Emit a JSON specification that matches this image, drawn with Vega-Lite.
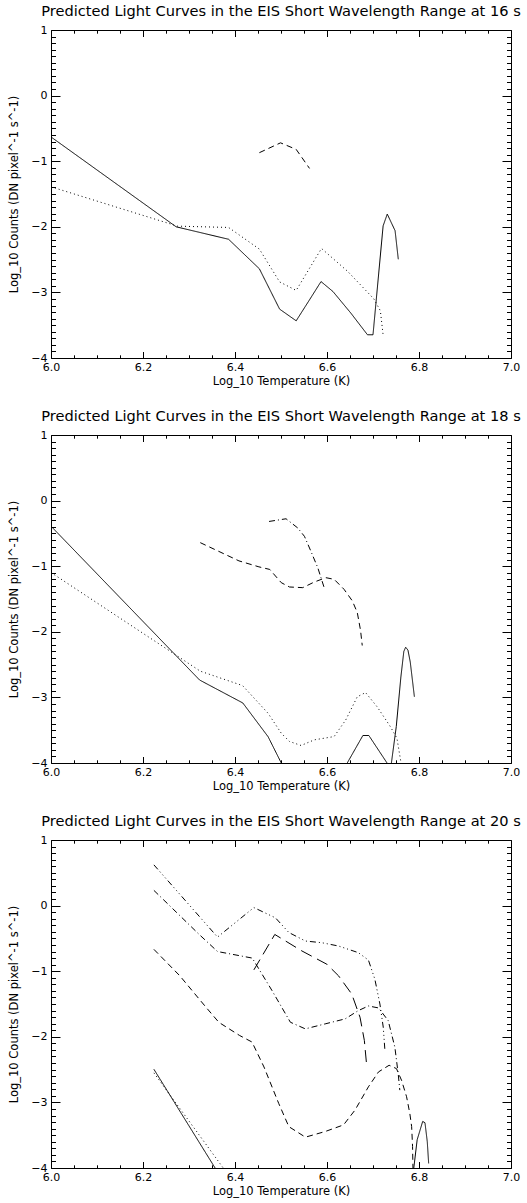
{
  "$schema": "https://vega.github.io/schema/vega-lite/v6.json",
  "padding": {"left": 8, "top": 4, "right": 5, "bottom": 2},
  "spacing": 21,
  "datasets": {
    "pts": [
      {"p":1,"c":"A","i":1,"T":6.0,"v":-0.63},{"p":1,"c":"A","i":2,"T":6.272,"v":-2.0},{"p":1,"c":"A","i":3,"T":6.386,"v":-2.19},{"p":1,"c":"A","i":4,"T":6.453,"v":-2.64},{"p":1,"c":"A","i":5,"T":6.497,"v":-3.255},{"p":1,"c":"A","i":6,"T":6.533,"v":-3.433},{"p":1,"c":"A","i":7,"T":6.562,"v":-3.113},{"p":1,"c":"A","i":8,"T":6.587,"v":-2.835},{"p":1,"c":"A","i":9,"T":6.613,"v":-2.987},{"p":1,"c":"A","i":10,"T":6.652,"v":-3.317},{"p":1,"c":"A","i":11,"T":6.688,"v":-3.646},{"p":1,"c":"A","i":12,"T":6.7,"v":-3.646},{"p":1,"c":"A","i":13,"T":6.722,"v":-1.986},{"p":1,"c":"A","i":14,"T":6.731,"v":-1.806},{"p":1,"c":"A","i":15,"T":6.748,"v":-2.059},{"p":1,"c":"A","i":16,"T":6.755,"v":-2.495},
      {"p":1,"c":"B","i":1,"T":6.0,"v":-1.39},{"p":1,"c":"B","i":2,"T":6.275,"v":-1.99},{"p":1,"c":"B","i":3,"T":6.386,"v":-2.01},{"p":1,"c":"B","i":4,"T":6.453,"v":-2.34},{"p":1,"c":"B","i":5,"T":6.497,"v":-2.84},{"p":1,"c":"B","i":6,"T":6.533,"v":-2.97},{"p":1,"c":"B","i":7,"T":6.588,"v":-2.33},{"p":1,"c":"B","i":8,"T":6.645,"v":-2.68},{"p":1,"c":"B","i":9,"T":6.702,"v":-3.1},{"p":1,"c":"B","i":10,"T":6.716,"v":-3.28},{"p":1,"c":"B","i":11,"T":6.722,"v":-3.65},
      {"p":1,"c":"C","i":1,"T":6.453,"v":-0.87},{"p":1,"c":"C","i":2,"T":6.499,"v":-0.72},{"p":1,"c":"C","i":3,"T":6.533,"v":-0.82},{"p":1,"c":"C","i":4,"T":6.562,"v":-1.11},

      {"p":2,"c":"A","i":1,"T":6.0,"v":-0.39},{"p":2,"c":"A","i":2,"T":6.323,"v":-2.735},{"p":2,"c":"A","i":3,"T":6.417,"v":-3.085},{"p":2,"c":"A","i":4,"T":6.472,"v":-3.6},{"p":2,"c":"A","i":5,"T":6.5006,"v":-4.0},{"p":2,"c":"A","i":6,"T":6.53,"v":-4.5},{"p":2,"c":"A","i":7,"T":6.59,"v":-4.9},{"p":2,"c":"A","i":8,"T":6.62,"v":-4.5},{"p":2,"c":"A","i":9,"T":6.644,"v":-4.0},{"p":2,"c":"A","i":10,"T":6.678,"v":-3.581},{"p":2,"c":"A","i":11,"T":6.691,"v":-3.581},{"p":2,"c":"A","i":12,"T":6.7305,"v":-4.0},{"p":2,"c":"A","i":13,"T":6.735,"v":-4.05},{"p":2,"c":"A","i":14,"T":6.74,"v":-4.0},{"p":2,"c":"A","i":15,"T":6.7506,"v":-3.445},{"p":2,"c":"A","i":16,"T":6.7606,"v":-2.689},{"p":2,"c":"A","i":17,"T":6.767,"v":-2.3},{"p":2,"c":"A","i":18,"T":6.771,"v":-2.235},{"p":2,"c":"A","i":19,"T":6.776,"v":-2.28},{"p":2,"c":"A","i":20,"T":6.781,"v":-2.461},{"p":2,"c":"A","i":21,"T":6.79,"v":-2.991},
      {"p":2,"c":"B","i":1,"T":6.0,"v":-1.096},{"p":2,"c":"B","i":2,"T":6.3245,"v":-2.6},{"p":2,"c":"B","i":3,"T":6.4165,"v":-2.82},{"p":2,"c":"B","i":4,"T":6.472,"v":-3.243},{"p":2,"c":"B","i":5,"T":6.5006,"v":-3.546},{"p":2,"c":"B","i":6,"T":6.5185,"v":-3.672},{"p":2,"c":"B","i":7,"T":6.5437,"v":-3.733},{"p":2,"c":"B","i":8,"T":6.5724,"v":-3.647},{"p":2,"c":"B","i":9,"T":6.6155,"v":-3.597},{"p":2,"c":"B","i":10,"T":6.6407,"v":-3.344},{"p":2,"c":"B","i":11,"T":6.6658,"v":-2.991},{"p":2,"c":"B","i":12,"T":6.6838,"v":-2.926},{"p":2,"c":"B","i":13,"T":6.709,"v":-3.143},{"p":2,"c":"B","i":14,"T":6.7377,"v":-3.445},{"p":2,"c":"B","i":15,"T":6.752,"v":-3.622},{"p":2,"c":"B","i":16,"T":6.761,"v":-4.0},
      {"p":2,"c":"C","i":1,"T":6.3245,"v":-0.641},{"p":2,"c":"C","i":2,"T":6.4086,"v":-0.919},{"p":2,"c":"C","i":3,"T":6.452,"v":-1.01},{"p":2,"c":"C","i":4,"T":6.4755,"v":-1.049},{"p":2,"c":"C","i":5,"T":6.5006,"v":-1.251},{"p":2,"c":"C","i":6,"T":6.5185,"v":-1.317},{"p":2,"c":"C","i":7,"T":6.5473,"v":-1.327},{"p":2,"c":"C","i":8,"T":6.5724,"v":-1.241},{"p":2,"c":"C","i":9,"T":6.5976,"v":-1.175},{"p":2,"c":"C","i":10,"T":6.6155,"v":-1.2},{"p":2,"c":"C","i":11,"T":6.637,"v":-1.352},{"p":2,"c":"C","i":12,"T":6.655,"v":-1.528},{"p":2,"c":"C","i":13,"T":6.6658,"v":-1.705},{"p":2,"c":"C","i":14,"T":6.673,"v":-1.982},{"p":2,"c":"C","i":15,"T":6.6766,"v":-2.209},
      {"p":2,"c":"D","i":1,"T":6.474,"v":-0.318},{"p":2,"c":"D","i":2,"T":6.511,"v":-0.277},{"p":2,"c":"D","i":3,"T":6.5365,"v":-0.418},{"p":2,"c":"D","i":4,"T":6.551,"v":-0.545},{"p":2,"c":"D","i":5,"T":6.565,"v":-0.772},{"p":2,"c":"D","i":6,"T":6.58,"v":-1.024},{"p":2,"c":"D","i":7,"T":6.595,"v":-1.352},

      {"p":3,"c":"A","i":1,"T":6.2237,"v":-2.495},{"p":3,"c":"A","i":2,"T":6.37,"v":-4.15},{"p":3,"c":"A","i":3,"T":6.58,"v":-5.0},{"p":3,"c":"A","i":4,"T":6.787,"v":-4.1},{"p":3,"c":"A","i":5,"T":6.796,"v":-3.57},{"p":3,"c":"A","i":6,"T":6.808,"v":-3.29},{"p":3,"c":"A","i":7,"T":6.813,"v":-3.31},{"p":3,"c":"A","i":8,"T":6.818,"v":-3.6},{"p":3,"c":"A","i":9,"T":6.821,"v":-3.93},
      {"p":3,"c":"B","i":1,"T":6.2237,"v":-2.55},{"p":3,"c":"B","i":2,"T":6.39,"v":-4.15},
      {"p":3,"c":"C","i":1,"T":6.2237,"v":-0.667},{"p":3,"c":"C","i":2,"T":6.28,"v":-1.07},{"p":3,"c":"C","i":3,"T":6.337,"v":-1.55},{"p":3,"c":"C","i":4,"T":6.365,"v":-1.78},{"p":3,"c":"C","i":5,"T":6.41,"v":-1.98},{"p":3,"c":"C","i":6,"T":6.437,"v":-2.08},{"p":3,"c":"C","i":7,"T":6.463,"v":-2.46},{"p":3,"c":"C","i":8,"T":6.495,"v":-3.015},{"p":3,"c":"C","i":9,"T":6.517,"v":-3.369},{"p":3,"c":"C","i":10,"T":6.553,"v":-3.53},{"p":3,"c":"C","i":11,"T":6.596,"v":-3.444},{"p":3,"c":"C","i":12,"T":6.636,"v":-3.343},{"p":3,"c":"C","i":13,"T":6.661,"v":-3.116},{"p":3,"c":"C","i":14,"T":6.69,"v":-2.763},{"p":3,"c":"C","i":15,"T":6.712,"v":-2.535},{"p":3,"c":"C","i":16,"T":6.735,"v":-2.434},{"p":3,"c":"C","i":17,"T":6.751,"v":-2.485},{"p":3,"c":"C","i":18,"T":6.762,"v":-2.662},{"p":3,"c":"C","i":19,"T":6.773,"v":-2.914},{"p":3,"c":"C","i":20,"T":6.78,"v":-3.167},{"p":3,"c":"C","i":21,"T":6.784,"v":-3.369},{"p":3,"c":"C","i":22,"T":6.786,"v":-3.672},{"p":3,"c":"C","i":23,"T":6.787,"v":-4.05},
      {"p":3,"c":"D","i":1,"T":6.2237,"v":0.232},{"p":3,"c":"D","i":2,"T":6.322,"v":-0.439},{"p":3,"c":"D","i":3,"T":6.362,"v":-0.7},{"p":3,"c":"D","i":4,"T":6.4375,"v":-0.8},{"p":3,"c":"D","i":5,"T":6.4807,"v":-1.298},{"p":3,"c":"D","i":6,"T":6.5204,"v":-1.778},{"p":3,"c":"D","i":7,"T":6.5528,"v":-1.879},{"p":3,"c":"D","i":8,"T":6.596,"v":-1.803},{"p":3,"c":"D","i":9,"T":6.6394,"v":-1.727},{"p":3,"c":"D","i":10,"T":6.668,"v":-1.601},{"p":3,"c":"D","i":11,"T":6.69,"v":-1.53},{"p":3,"c":"D","i":12,"T":6.712,"v":-1.56},{"p":3,"c":"D","i":13,"T":6.733,"v":-1.753},{"p":3,"c":"D","i":14,"T":6.7475,"v":-2.157},{"p":3,"c":"D","i":15,"T":6.7547,"v":-2.56},{"p":3,"c":"D","i":16,"T":6.7583,"v":-2.813},
      {"p":3,"c":"E","i":1,"T":6.2237,"v":0.621},{"p":3,"c":"E","i":2,"T":6.362,"v":-0.48},{"p":3,"c":"E","i":3,"T":6.441,"v":-0.03},{"p":3,"c":"E","i":4,"T":6.488,"v":-0.187},{"p":3,"c":"E","i":5,"T":6.517,"v":-0.41},{"p":3,"c":"E","i":6,"T":6.553,"v":-0.54},{"p":3,"c":"E","i":7,"T":6.589,"v":-0.566},{"p":3,"c":"E","i":8,"T":6.625,"v":-0.616},{"p":3,"c":"E","i":9,"T":6.668,"v":-0.717},{"p":3,"c":"E","i":10,"T":6.69,"v":-0.83},{"p":3,"c":"E","i":11,"T":6.704,"v":-1.121},{"p":3,"c":"E","i":12,"T":6.715,"v":-1.5},{"p":3,"c":"E","i":13,"T":6.7223,"v":-1.854},{"p":3,"c":"E","i":14,"T":6.7259,"v":-2.207},
      {"p":3,"c":"F","i":1,"T":6.441,"v":-0.98},{"p":3,"c":"F","i":2,"T":6.4865,"v":-0.44},{"p":3,"c":"F","i":3,"T":6.5456,"v":-0.692},{"p":3,"c":"F","i":4,"T":6.5997,"v":-0.894},{"p":3,"c":"F","i":5,"T":6.625,"v":-1.07},{"p":3,"c":"F","i":6,"T":6.6538,"v":-1.348},{"p":3,"c":"F","i":7,"T":6.6718,"v":-1.702},{"p":3,"c":"F","i":8,"T":6.6812,"v":-2.056},{"p":3,"c":"F","i":9,"T":6.6862,"v":-2.434}
    ]
  },
  "vconcat": [
    {
      "title": "Predicted Light Curves in the EIS Short Wavelength Range at 16 s",
      "width": 460, "height": 328,
      "layer": [
        {
          "data": {"name": "pts"},
          "transform": [{"filter": "datum.p == 1 && (datum.c == 'A' || datum.c == 'B')"}],
          "mark": {"type": "line", "clip": true, "color": "black", "strokeWidth": 1},
          "encoding": {
            "x": {"field": "T", "type": "quantitative", "scale": {"domain": [6, 7], "nice": false, "zero": false},
              "axis": {"orient": "bottom", "values": [6,6.05,6.1,6.15,6.2,6.25,6.3,6.35,6.4,6.45,6.5,6.55,6.6,6.65,6.7,6.75,6.8,6.85,6.9,6.95,7],
                "labelExpr": "abs(datum.value*5-round(datum.value*5)) < 0.001 ? format(datum.value, '.1f') : ''",
                "tickSize": {"condition": {"test": "abs(datum.value*5-round(datum.value*5)) < 0.001", "value": -6.5}, "value": -3.2},
                "labelPadding": 10, "title": "Log_10 Temperature (K)", "titlePadding": 0}},
            "y": {"field": "v", "type": "quantitative", "scale": {"domain": [-4, 1], "nice": false, "zero": false},
              "axis": {"orient": "left", "values": [-4,-3.9,-3.8,-3.7,-3.6,-3.5,-3.4,-3.3,-3.2,-3.1,-3,-2.9,-2.8,-2.7,-2.6,-2.5,-2.4,-2.3,-2.2,-2.1,-2,-1.9,-1.8,-1.7,-1.6,-1.5,-1.4,-1.3,-1.2,-1.1,-1,-0.9,-0.8,-0.7,-0.6,-0.5,-0.4,-0.3,-0.2,-0.1,0,0.1,0.2,0.3,0.4,0.5,0.6,0.7,0.8,0.9,1],
                "labelExpr": "abs(datum.value-round(datum.value)) < 0.001 ? format(datum.value, 'd') : ''",
                "tickSize": {"condition": {"test": "abs(datum.value-round(datum.value)) < 0.001", "value": -9}, "value": -4.5},
                "labelPadding": 13, "title": "Log_10 Counts (DN pixel^-1 s^-1)", "titlePadding": 11}},
            "strokeDash": {"field": "c", "type": "nominal", "legend": null,
              "scale": {"domain": ["A","B","C","D","E","F"], "range": [[1,0],[1,3],[6,4],[6,3,1,3],[6,3,1,3,1,3,1,3],[12,6]]}},
            "order": {"field": "i", "type": "quantitative"}
          }
        },
        {
          "data": {"name": "pts"},
          "transform": [{"filter": "datum.p == 1 && datum.c != 'A' && datum.c != 'B'"}],
          "mark": {"type": "line", "clip": true, "color": "black", "strokeWidth": 1},
          "encoding": {
            "x": {"field": "T", "type": "quantitative", "scale": {"domain": [6, 7], "nice": false, "zero": false},
              "axis": {"orient": "top", "values": [6,6.05,6.1,6.15,6.2,6.25,6.3,6.35,6.4,6.45,6.5,6.55,6.6,6.65,6.7,6.75,6.8,6.85,6.9,6.95,7],
                "labels": false, "title": null,
                "tickSize": {"condition": {"test": "abs(datum.value*5-round(datum.value*5)) < 0.001", "value": -6.5}, "value": -3.2}}},
            "y": {"field": "v", "type": "quantitative", "scale": {"domain": [-4, 1], "nice": false, "zero": false},
              "axis": {"orient": "right", "values": [-4,-3.9,-3.8,-3.7,-3.6,-3.5,-3.4,-3.3,-3.2,-3.1,-3,-2.9,-2.8,-2.7,-2.6,-2.5,-2.4,-2.3,-2.2,-2.1,-2,-1.9,-1.8,-1.7,-1.6,-1.5,-1.4,-1.3,-1.2,-1.1,-1,-0.9,-0.8,-0.7,-0.6,-0.5,-0.4,-0.3,-0.2,-0.1,0,0.1,0.2,0.3,0.4,0.5,0.6,0.7,0.8,0.9,1],
                "labels": false, "title": null,
                "tickSize": {"condition": {"test": "abs(datum.value-round(datum.value)) < 0.001", "value": -9}, "value": -4.5}}},
            "strokeDash": {"field": "c", "type": "nominal", "legend": null,
              "scale": {"domain": ["A","B","C","D","E","F"], "range": [[1,0],[1,3],[6,4],[6,3,1,3],[6,3,1,3,1,3,1,3],[12,6]]}},
            "order": {"field": "i", "type": "quantitative"}
          }
        }
      ],
      "resolve": {"axis": {"x": "independent", "y": "independent"}}
    },
    {
      "title": "Predicted Light Curves in the EIS Short Wavelength Range at 18 s",
      "width": 460, "height": 328,
      "layer": [
        {
          "data": {"name": "pts"},
          "transform": [{"filter": "datum.p == 2 && (datum.c == 'A' || datum.c == 'B')"}],
          "mark": {"type": "line", "clip": true, "color": "black", "strokeWidth": 1},
          "encoding": {
            "x": {"field": "T", "type": "quantitative", "scale": {"domain": [6, 7], "nice": false, "zero": false},
              "axis": {"orient": "bottom", "values": [6,6.05,6.1,6.15,6.2,6.25,6.3,6.35,6.4,6.45,6.5,6.55,6.6,6.65,6.7,6.75,6.8,6.85,6.9,6.95,7],
                "labelExpr": "abs(datum.value*5-round(datum.value*5)) < 0.001 ? format(datum.value, '.1f') : ''",
                "tickSize": {"condition": {"test": "abs(datum.value*5-round(datum.value*5)) < 0.001", "value": -6.5}, "value": -3.2},
                "labelPadding": 10, "title": "Log_10 Temperature (K)", "titlePadding": 0}},
            "y": {"field": "v", "type": "quantitative", "scale": {"domain": [-4, 1], "nice": false, "zero": false},
              "axis": {"orient": "left", "values": [-4,-3.9,-3.8,-3.7,-3.6,-3.5,-3.4,-3.3,-3.2,-3.1,-3,-2.9,-2.8,-2.7,-2.6,-2.5,-2.4,-2.3,-2.2,-2.1,-2,-1.9,-1.8,-1.7,-1.6,-1.5,-1.4,-1.3,-1.2,-1.1,-1,-0.9,-0.8,-0.7,-0.6,-0.5,-0.4,-0.3,-0.2,-0.1,0,0.1,0.2,0.3,0.4,0.5,0.6,0.7,0.8,0.9,1],
                "labelExpr": "abs(datum.value-round(datum.value)) < 0.001 ? format(datum.value, 'd') : ''",
                "tickSize": {"condition": {"test": "abs(datum.value-round(datum.value)) < 0.001", "value": -9}, "value": -4.5},
                "labelPadding": 13, "title": "Log_10 Counts (DN pixel^-1 s^-1)", "titlePadding": 11}},
            "strokeDash": {"field": "c", "type": "nominal", "legend": null,
              "scale": {"domain": ["A","B","C","D","E","F"], "range": [[1,0],[1,3],[6,4],[6,3,1,3],[6,3,1,3,1,3,1,3],[12,6]]}},
            "order": {"field": "i", "type": "quantitative"}
          }
        },
        {
          "data": {"name": "pts"},
          "transform": [{"filter": "datum.p == 2 && datum.c != 'A' && datum.c != 'B'"}],
          "mark": {"type": "line", "clip": true, "color": "black", "strokeWidth": 1},
          "encoding": {
            "x": {"field": "T", "type": "quantitative", "scale": {"domain": [6, 7], "nice": false, "zero": false},
              "axis": {"orient": "top", "values": [6,6.05,6.1,6.15,6.2,6.25,6.3,6.35,6.4,6.45,6.5,6.55,6.6,6.65,6.7,6.75,6.8,6.85,6.9,6.95,7],
                "labels": false, "title": null,
                "tickSize": {"condition": {"test": "abs(datum.value*5-round(datum.value*5)) < 0.001", "value": -6.5}, "value": -3.2}}},
            "y": {"field": "v", "type": "quantitative", "scale": {"domain": [-4, 1], "nice": false, "zero": false},
              "axis": {"orient": "right", "values": [-4,-3.9,-3.8,-3.7,-3.6,-3.5,-3.4,-3.3,-3.2,-3.1,-3,-2.9,-2.8,-2.7,-2.6,-2.5,-2.4,-2.3,-2.2,-2.1,-2,-1.9,-1.8,-1.7,-1.6,-1.5,-1.4,-1.3,-1.2,-1.1,-1,-0.9,-0.8,-0.7,-0.6,-0.5,-0.4,-0.3,-0.2,-0.1,0,0.1,0.2,0.3,0.4,0.5,0.6,0.7,0.8,0.9,1],
                "labels": false, "title": null,
                "tickSize": {"condition": {"test": "abs(datum.value-round(datum.value)) < 0.001", "value": -9}, "value": -4.5}}},
            "strokeDash": {"field": "c", "type": "nominal", "legend": null,
              "scale": {"domain": ["A","B","C","D","E","F"], "range": [[1,0],[1,3],[6,4],[6,3,1,3],[6,3,1,3,1,3,1,3],[12,6]]}},
            "order": {"field": "i", "type": "quantitative"}
          }
        }
      ],
      "resolve": {"axis": {"x": "independent", "y": "independent"}}
    },
    {
      "title": "Predicted Light Curves in the EIS Short Wavelength Range at 20 s",
      "width": 460, "height": 328,
      "layer": [
        {
          "data": {"name": "pts"},
          "transform": [{"filter": "datum.p == 3 && (datum.c == 'A' || datum.c == 'B')"}],
          "mark": {"type": "line", "clip": true, "color": "black", "strokeWidth": 1},
          "encoding": {
            "x": {"field": "T", "type": "quantitative", "scale": {"domain": [6, 7], "nice": false, "zero": false},
              "axis": {"orient": "bottom", "values": [6,6.05,6.1,6.15,6.2,6.25,6.3,6.35,6.4,6.45,6.5,6.55,6.6,6.65,6.7,6.75,6.8,6.85,6.9,6.95,7],
                "labelExpr": "abs(datum.value*5-round(datum.value*5)) < 0.001 ? format(datum.value, '.1f') : ''",
                "tickSize": {"condition": {"test": "abs(datum.value*5-round(datum.value*5)) < 0.001", "value": -6.5}, "value": -3.2},
                "labelPadding": 10, "title": "Log_10 Temperature (K)", "titlePadding": 0}},
            "y": {"field": "v", "type": "quantitative", "scale": {"domain": [-4, 1], "nice": false, "zero": false},
              "axis": {"orient": "left", "values": [-4,-3.9,-3.8,-3.7,-3.6,-3.5,-3.4,-3.3,-3.2,-3.1,-3,-2.9,-2.8,-2.7,-2.6,-2.5,-2.4,-2.3,-2.2,-2.1,-2,-1.9,-1.8,-1.7,-1.6,-1.5,-1.4,-1.3,-1.2,-1.1,-1,-0.9,-0.8,-0.7,-0.6,-0.5,-0.4,-0.3,-0.2,-0.1,0,0.1,0.2,0.3,0.4,0.5,0.6,0.7,0.8,0.9,1],
                "labelExpr": "abs(datum.value-round(datum.value)) < 0.001 ? format(datum.value, 'd') : ''",
                "tickSize": {"condition": {"test": "abs(datum.value-round(datum.value)) < 0.001", "value": -9}, "value": -4.5},
                "labelPadding": 13, "title": "Log_10 Counts (DN pixel^-1 s^-1)", "titlePadding": 11}},
            "strokeDash": {"field": "c", "type": "nominal", "legend": null,
              "scale": {"domain": ["A","B","C","D","E","F"], "range": [[1,0],[1,3],[6,4],[6,3,1,3],[6,3,1,3,1,3,1,3],[12,6]]}},
            "order": {"field": "i", "type": "quantitative"}
          }
        },
        {
          "data": {"name": "pts"},
          "transform": [{"filter": "datum.p == 3 && datum.c != 'A' && datum.c != 'B'"}],
          "mark": {"type": "line", "clip": true, "color": "black", "strokeWidth": 1},
          "encoding": {
            "x": {"field": "T", "type": "quantitative", "scale": {"domain": [6, 7], "nice": false, "zero": false},
              "axis": {"orient": "top", "values": [6,6.05,6.1,6.15,6.2,6.25,6.3,6.35,6.4,6.45,6.5,6.55,6.6,6.65,6.7,6.75,6.8,6.85,6.9,6.95,7],
                "labels": false, "title": null,
                "tickSize": {"condition": {"test": "abs(datum.value*5-round(datum.value*5)) < 0.001", "value": -6.5}, "value": -3.2}}},
            "y": {"field": "v", "type": "quantitative", "scale": {"domain": [-4, 1], "nice": false, "zero": false},
              "axis": {"orient": "right", "values": [-4,-3.9,-3.8,-3.7,-3.6,-3.5,-3.4,-3.3,-3.2,-3.1,-3,-2.9,-2.8,-2.7,-2.6,-2.5,-2.4,-2.3,-2.2,-2.1,-2,-1.9,-1.8,-1.7,-1.6,-1.5,-1.4,-1.3,-1.2,-1.1,-1,-0.9,-0.8,-0.7,-0.6,-0.5,-0.4,-0.3,-0.2,-0.1,0,0.1,0.2,0.3,0.4,0.5,0.6,0.7,0.8,0.9,1],
                "labels": false, "title": null,
                "tickSize": {"condition": {"test": "abs(datum.value-round(datum.value)) < 0.001", "value": -9}, "value": -4.5}}},
            "strokeDash": {"field": "c", "type": "nominal", "legend": null,
              "scale": {"domain": ["A","B","C","D","E","F"], "range": [[1,0],[1,3],[6,4],[6,3,1,3],[6,3,1,3,1,3,1,3],[12,6]]}},
            "order": {"field": "i", "type": "quantitative"}
          }
        }
      ],
      "resolve": {"axis": {"x": "independent", "y": "independent"}}
    }
  ],
  "config": {
    "font": "DejaVu Sans",
    "view": {"stroke": null},
    "title": {"font": "DejaVu Sans", "fontSize": 14.6, "fontWeight": "normal", "color": "black", "anchor": "middle", "frame": "group", "offset": 5},
    "axis": {
      "grid": false, "domainColor": "black", "domainWidth": 1, "tickColor": "black", "tickWidth": 1,
      "labelFont": "DejaVu Sans", "labelFontSize": 11, "labelColor": "black",
      "labelFlush": false, "labelOverlap": false, "labelBound": false,
      "titleFont": "DejaVu Sans", "titleFontSize": 11.5, "titleFontWeight": "normal", "titleColor": "black"
    }
  }
}
